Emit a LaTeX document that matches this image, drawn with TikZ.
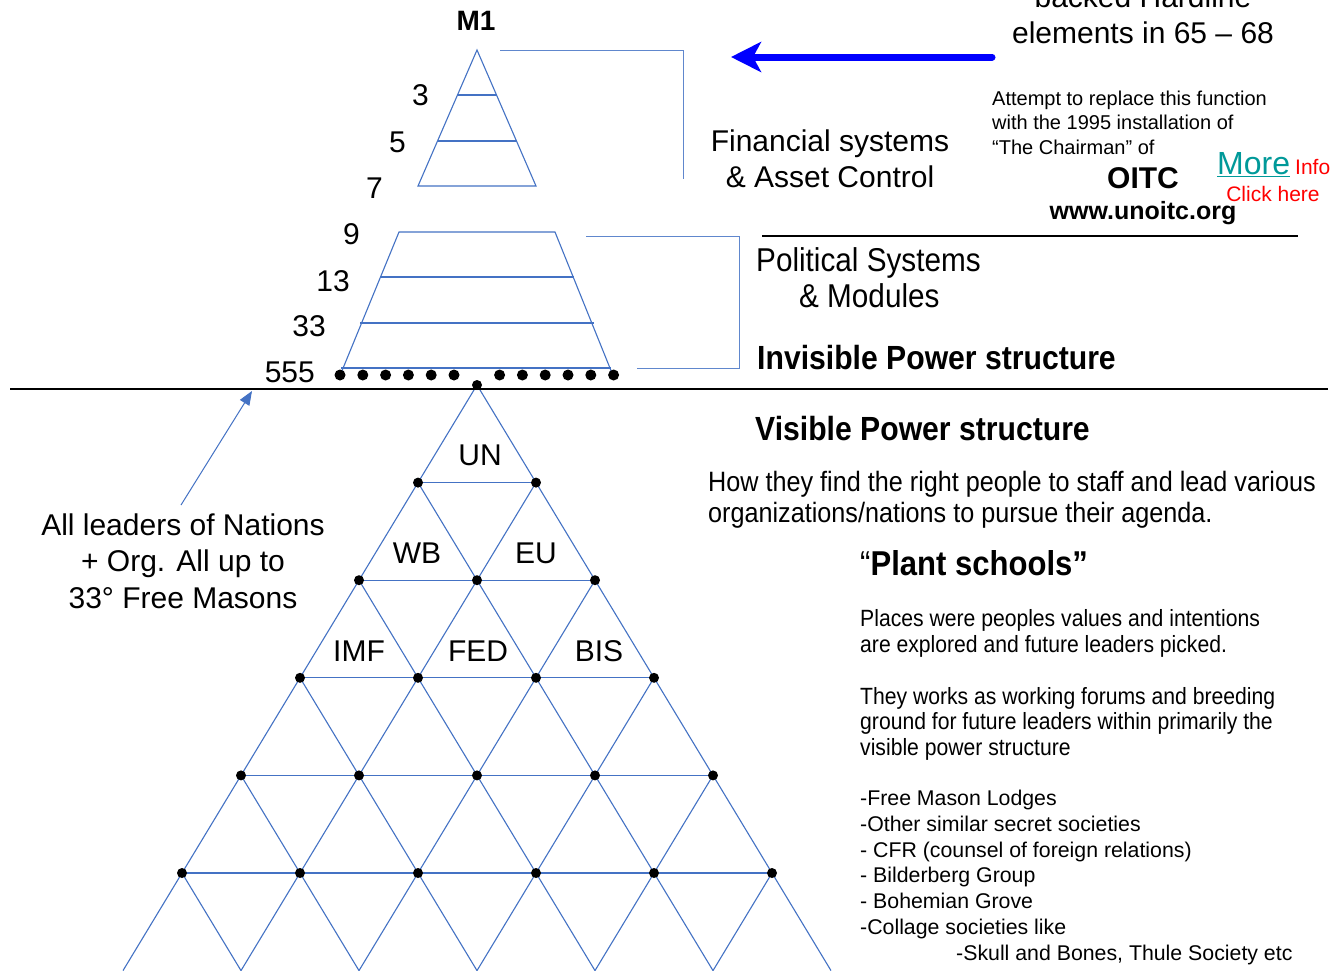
\documentclass[tikz,border=0pt]{standalone}
\usepackage{fontspec}
\setmainfont{Liberation Sans}
\newfontfamily\narrowfont[FakeStretch=0.9]{Liberation Sans}
\usetikzlibrary{arrows.meta,calc}
\definecolor{gridblue}{HTML}{4472C4}
\definecolor{moreteal}{HTML}{009999}
\definecolor{linkred}{HTML}{FF0000}
\newcommand\fsz[1]{\fontsize{#1}{#1}\selectfont}
\newcommand\fszb[2]{\fontsize{#1}{#2}\selectfont}
\tikzset{
  gridline/.style={draw=gridblue, line width=1.1pt},
  bracketline/.style={draw=gridblue!85, line width=1pt},
  blackrule/.style={draw=black, line width=2.6pt},
  dot/.style={fill=black},
  lbl/.style={inner sep=0pt, anchor=base, font=\fsz{30}},
  numlbl/.style={inner sep=0pt, anchor=base east, font=\fsz{30}},
  para/.style={inner sep=0pt, anchor=base west, align=left},
}
\begin{document}
\begin{tikzpicture}[x=1pt,y=-1pt]
\useasboundingbox[fill=white] (0,0) rectangle (1330,970);

% ---------- lower grid pyramid ----------
\foreach \k in {0,...,6}{
  \foreach \j in {0,...,\k}{
    \coordinate (g\k-\j) at ({477+59*(2*\j-\k)},{385+97.6*\k});
  }
}
\foreach \k in {0,...,5}{
  \pgfmathtruncatemacro\kk{\k+1}
  \foreach \j in {0,...,\k}{
    \pgfmathtruncatemacro\jj{\j+1}
    \draw[gridline] (g\k-\j) -- (g\kk-\j);
    \draw[gridline] (g\k-\j) -- (g\kk-\jj);
  }
}
\foreach \k in {1,...,5}{
  \pgfmathtruncatemacro\km{\k-1}
  \foreach \j in {0,...,\km}{
    \pgfmathtruncatemacro\jj{\j+1}
    \draw[gridline] (g\k-\j) -- (g\k-\jj);
  }
}
\foreach \k in {0,...,5}{
  \foreach \j in {0,...,\k}{
    \fill[dot] (g\k-\j) circle[radius=5pt];
  }
}
\node[lbl] (un)  at (480,465) {UN};
\node[lbl] (wb)  at (417,563) {WB};
\node[lbl] (eu)  at (536,563) {EU};
\node[lbl] (imf) at (359,661) {IMF};
\node[lbl] (fed) at (478,661) {FED};
\node[lbl] (bis) at (599,661) {BIS};

% ---------- upper pyramid ----------
\coordinate (ap) at (477,50);
\coordinate (bl) at (418,186);
\coordinate (br) at (536,186);
\draw[gridline] (bl) -- (ap) -- (br) -- cycle;
\draw[gridline] ($(ap)!0.331!(bl)$) -- ($(ap)!0.331!(br)$);
\draw[gridline] ($(ap)!0.669!(bl)$) -- ($(ap)!0.669!(br)$);

\coordinate (tl) at (399,232);
\coordinate (tr) at (555,232);
\coordinate (ll) at (339,378);
\coordinate (lr) at (614,378);
\draw[gridline] (ll) -- (tl) -- (tr) -- (lr);
\draw[gridline] (380,277) -- (574,277);
\draw[gridline] (360,323) -- (594,323);
\draw[gridline] (341,368) -- (611,368);
\foreach \i in {0,1,2,3,4,5,7,8,9,10,11,12}{
  \fill[dot] ({340+22.8*\i},375) circle[radius=5.5pt];
}

% brackets
\coordinate (b1a) at (500,50);
\coordinate (b1b) at (683,50);
\coordinate (b1c) at (683,179);
\draw[bracketline] (b1a) -- (b1b) -- (b1c);
\coordinate (b2a) at (586,236);
\coordinate (b2b) at (739,236);
\coordinate (b2c) at (739,368);
\coordinate (b2d) at (637,368);
\draw[bracketline] (b2a) -- (b2b) -- (b2c) -- (b2d);

% black rules
\coordinate (r1a) at (10,389);
\coordinate (r1b) at (1328,389);
\draw[blackrule] (r1a) -- (r1b);
\coordinate (r2a) at (762,236);
\coordinate (r2b) at (1298,236);
\draw[blackrule] (r2a) -- (r2b);

% level numbers
\node[lbl, font=\bfseries\fsz{28}] (m1) at (476,30) {M1};
\node[numlbl] (n3)   at (429,105) {3};
\node[numlbl] (n5)   at (406,152) {5};
\node[numlbl] (n7)   at (383,198) {7};
\node[numlbl] (n9)   at (360,244) {9};
\node[numlbl] (n13)  at (350,291) {13};
\node[numlbl] (n33)  at (326,336) {33};
\node[numlbl] (n555) at (315,382) {555};

% blue arrow
\coordinate (ba1) at (992,57);
\coordinate (ba2) at (731,57);
\draw[draw=blue, line width=7pt, line cap=round, -{Stealth[length=30pt,width=30pt,inset=8pt]}] (ba1) -- (ba2);

% thin arrow
\node[lbl, align=center, font=\fszb{30}{36.5}] (lead) at (183,608) {All leaders of Nations\\+ Org. All up to\\33° Free Masons};
\coordinate (leadtip) at (252,391);
\coordinate (leadtail) at (181,505);
\draw[draw=gridblue, line width=1pt, -{Triangle[length=14pt,width=11pt]}] (leadtail) -- (leadtip);

% top right texts
\node[lbl] (backed) at (1143,7) {backed Hardline};
\node[lbl] (elem) at (1143,43) {elements in 65 – 68};
\node[lbl, align=center, font=\fszb{30}{36}] (fin) at (830,187) {Financial systems\\\& Asset Control};
\node[para, font=\fszb{20}{24.5}] (attempt) at (992,154) {Attempt to replace this function\\with the 1995 installation of\\“The Chairman” of};
\node[lbl, font=\bfseries\fsz{30}] (oitc) at (1143,188) {OITC};
\node[lbl, font=\bfseries\fsz{25}] (www) at (1143,219) {www.unoitc.org};
\node[inner sep=0pt, anchor=base west, font=\fsz{32}, text=moreteal] (more) at (1217,174) {\underline{More}};
\node[inner sep=0pt, anchor=base west, font=\fsz{21}, text=linkred] (info) at (1295,174) {Info};
\node[inner sep=0pt, anchor=base, font=\fsz{21}, text=linkred] (click) at (1273,201) {Click here};

% political / invisible
\node[para, font=\narrowfont\fsz{33}] (pol) at (756,271) {Political Systems};
\node[para, font=\narrowfont\fsz{33}] (mod) at (799,307) {\& Modules};
\node[para, font=\narrowfont\bfseries\fsz{33.5}] (invis) at (757,369) {Invisible Power structure};
\node[para, font=\narrowfont\bfseries\fsz{33.5}] (vis) at (755,440) {Visible Power structure};

\node[para, font=\narrowfont\fszb{28}{31}] (how) at (708,522) {How they find the right people to staff and lead various\\organizations/nations to pursue their agenda.};
\node[para, font=\narrowfont\fsz{34.5}] (plant) at (860,575) {“{\bfseries Plant schools”}};

\node[para, font=\narrowfont\fszb{23.5}{25.5}] (places) at (860,652) {Places were peoples values and intentions\\are explored and future leaders picked.};
\node[para, font=\narrowfont\fszb{23.5}{25.5}] (they) at (860,755) {They works as working forums and breeding\\ground for future leaders within primarily the\\visible power structure};
\node[para, font=\fszb{21.3}{25.7}] (list) at (860,960) {-Free Mason Lodges\\-Other similar secret societies\\- CFR (counsel of foreign relations)\\- Bilderberg Group\\- Bohemian Grove\\-Collage societies like\\\hspace*{96pt}-Skull and Bones, Thule Society etc};
\end{tikzpicture}
\end{document}
